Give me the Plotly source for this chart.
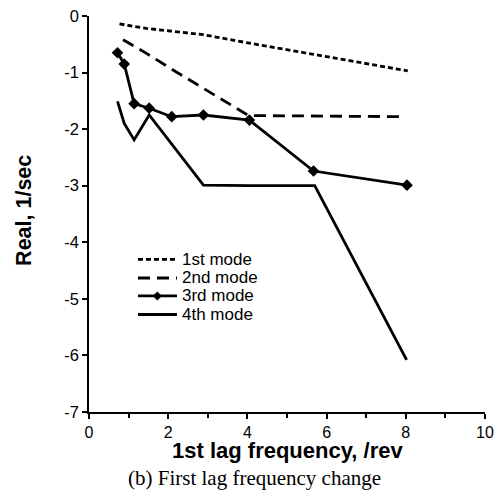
import plotly.graph_objects as go

# Data
mode1_x = [0.77, 1.45, 2.04, 2.88, 4.05, 5.67, 8.05]
mode1_y = [-0.14, -0.22, -0.265, -0.33, -0.48, -0.68, -0.97]

mode2_x = [0.86, 1.45, 2.09, 2.88, 4.03, 8.0]
mode2_y = [-0.42, -0.66, -0.94, -1.27, -1.76, -1.78]

mode3_x = [0.72, 0.89, 1.14, 1.52, 2.09, 2.89, 4.05, 5.67, 8.03]
mode3_y = [-0.65, -0.85, -1.55, -1.63, -1.78, -1.75, -1.84, -2.74, -2.99]

mode4_x = [0.72, 0.89, 1.14, 1.52, 2.89, 4.05, 5.70, 8.02]
mode4_y = [-1.51, -1.90, -2.19, -1.75, -2.99, -3.0, -3.0, -6.08]

series_names = ["1st mode", "2nd mode", "3rd mode", "4th mode"]

x_ticks = [0, 2, 4, 6, 8, 10]
x_ticklabels = ["0", "2", "4", "6", "8", "10"]
y_ticks = [0, -1, -2, -3, -4, -5, -6, -7]
y_ticklabels = ["0", "-1", "-2", "-3", "-4", "-5", "-6", "-7"]

x_title = "1st lag frequency, /rev"
y_title = "Real, 1/sec"
caption = "(b) First lag frequency change"

LW = 2.8
dashes = ["5px,3px", "12px,7px", "solid", "solid"]

fig = go.Figure()
fig.add_trace(go.Scatter(x=mode1_x, y=mode1_y, mode="lines", name=series_names[0],
                         line=dict(color="black", width=LW, dash=dashes[0])))
fig.add_trace(go.Scatter(x=mode2_x, y=mode2_y, mode="lines", name=series_names[1],
                         line=dict(color="black", width=LW, dash=dashes[1])))
fig.add_trace(go.Scatter(x=mode3_x, y=mode3_y, mode="lines+markers", name=series_names[2],
                         line=dict(color="black", width=LW),
                         marker=dict(symbol="diamond", size=9, color="black")))
fig.add_trace(go.Scatter(x=mode4_x, y=mode4_y, mode="lines", name=series_names[3],
                         line=dict(color="black", width=LW)))

# Manual compact legend (like the reference)
shapes = []
annotations = []
leg_rows = [0.3856, 0.3384, 0.2930, 0.2462]
lx0, lx1, tx = 0.1237, 0.2222, 0.229
for name, d, ry in zip(series_names, dashes, leg_rows):
    shapes.append(dict(type="line", xref="paper", yref="paper", x0=lx0, x1=lx1, y0=ry, y1=ry,
                       line=dict(color="black", width=LW, dash=d)))
    annotations.append(dict(text=name, xref="paper", yref="paper", x=tx, y=ry,
                            xanchor="left", yanchor="middle", showarrow=False,
                            font=dict(size=17)))
cx, cy, h = 0.1725, leg_rows[2], 0.0115
shapes.append(dict(type="path", xref="paper", yref="paper",
                   path=f"M {cx},{cy + h} L {cx + h},{cy} L {cx},{cy - h} L {cx - h},{cy} Z",
                   fillcolor="black", line=dict(color="black", width=0)))

# Axis titles and caption
annotations.append(dict(text="<b>" + x_title + "</b>", xref="paper", yref="paper",
                        x=0.5, y=-0.097, xanchor="center", yanchor="middle",
                        showarrow=False, font=dict(size=22)))
annotations.append(dict(text="<b>" + y_title + "</b>", xref="paper", yref="paper",
                        x=-0.164, y=0.508, xanchor="center", yanchor="middle",
                        textangle=-90, showarrow=False, font=dict(size=21.5)))
annotations.append(dict(text=caption, xref="paper", yref="paper", x=0.419, y=-0.1667,
                        xanchor="center", yanchor="middle", showarrow=False,
                        font=dict(family="Liberation Serif, Times New Roman, serif", size=21)))

fig.update_layout(
    width=502, height=495,
    margin=dict(l=89, r=17, t=16, b=83, autoexpand=False),
    plot_bgcolor="white", paper_bgcolor="white",
    font=dict(family="Liberation Sans, Arial, sans-serif", size=16, color="black"),
    showlegend=False,
    xaxis=dict(range=[0, 10], tickvals=x_ticks, ticktext=x_ticklabels,
               showgrid=False, zeroline=False, automargin=False,
               ticklabeloverflow="allow",
               showline=True, linecolor="black", linewidth=1.5,
               ticks="outside", ticklen=5, tickwidth=1.5, tickcolor="black",
               minor=dict(dtick=1, ticks="outside", ticklen=4, tickwidth=1.5, tickcolor="black"),
               tickfont=dict(size=16)),
    yaxis=dict(range=[-7, 0], tickvals=y_ticks, ticktext=y_ticklabels,
               showgrid=False, zeroline=False, automargin=False,
               ticklabeloverflow="allow",
               showline=True, linecolor="black", linewidth=1.5,
               ticks="outside", ticklen=5, tickwidth=1.5, tickcolor="black",
               tickfont=dict(size=16.5)),
    shapes=shapes,
    annotations=annotations,
)

# Remove the default 8px page margin so the figure fills the window exactly
fig.write_html("out.html", config={"displayModeBar": False},
               post_script="document.body.style.margin='0px';")
